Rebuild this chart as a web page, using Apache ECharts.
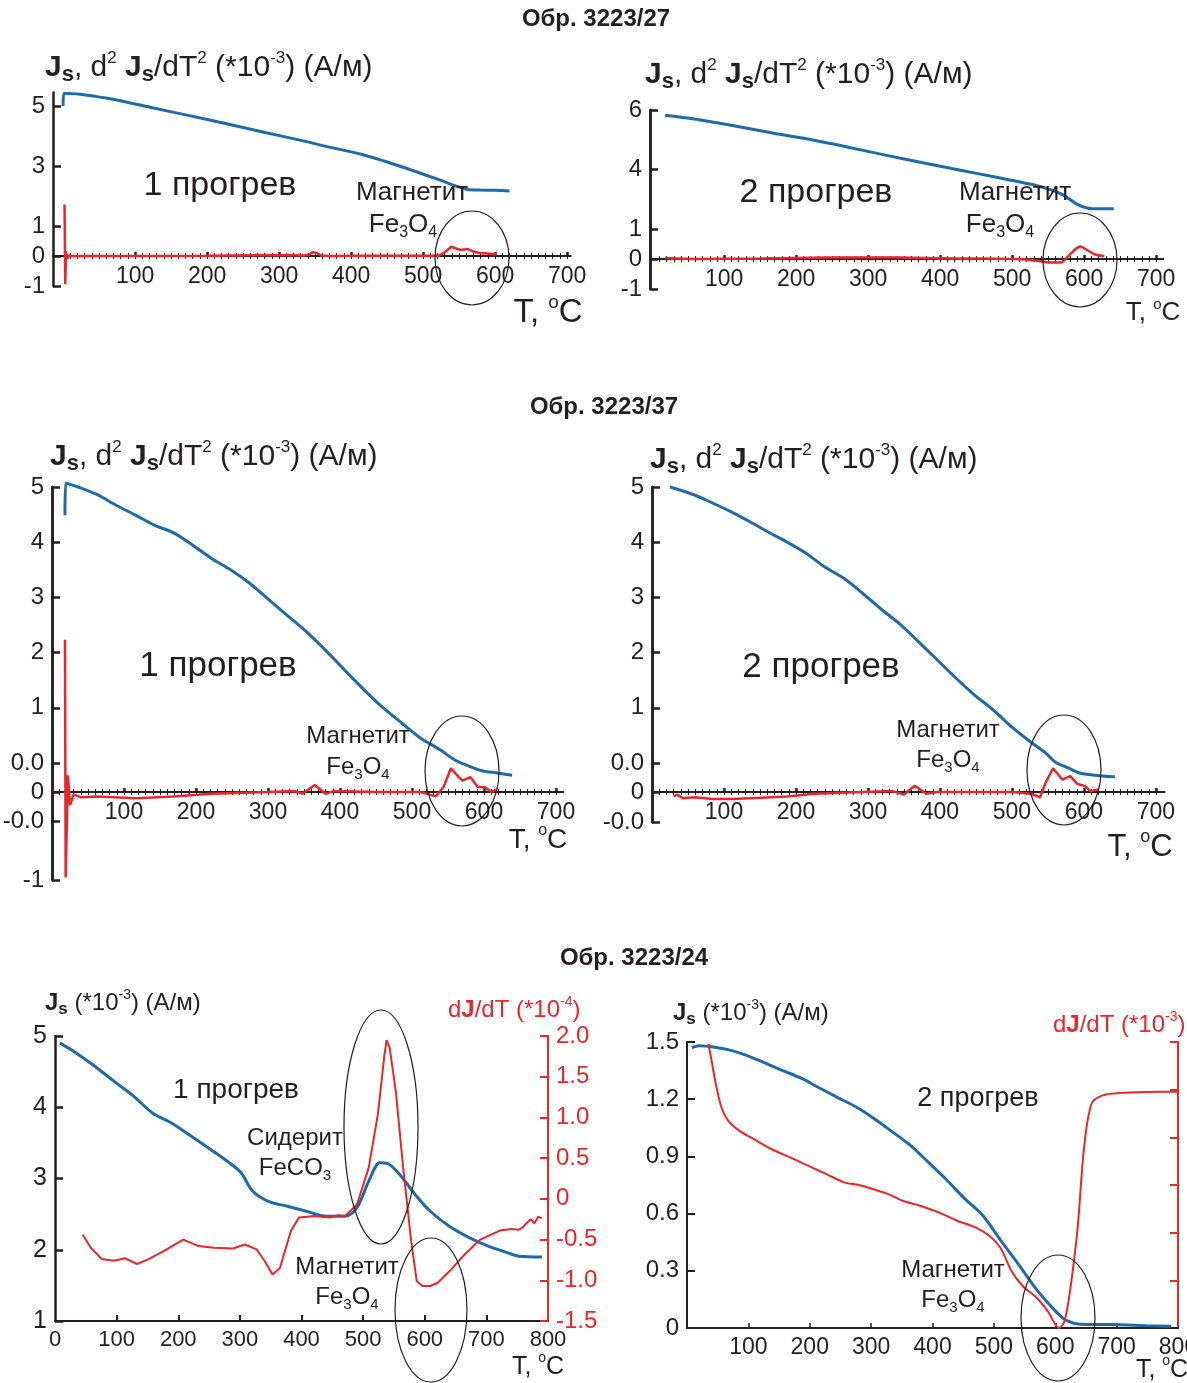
<!DOCTYPE html>
<html><head><meta charset="utf-8">
<script src="https://cdn.jsdelivr.net/npm/echarts@6/dist/echarts.min.js"></script>
<style>html,body{margin:0;padding:0;background:#fff}#c{width:1187px;height:1383px}</style>
</head><body><div id="c"></div>
<script>
// ---------- DATA ----------
// Sample 3223/27, heating 1 (T °C, value)
const p1Blue = [[0,5.0],[1,5.42],[8,5.42],[71,5.22],[124,4.94],[177,4.67],[230,4.39],[282,4.11],[335,3.83],[362,3.67],[414,3.39],[467,3.0],[520,2.56],[546,2.33],[562,2.22],[580,2.2],[599,2.19],[620,2.17]];
const p1Red = [[2,1.72],[3,-0.94],[4,0.15],[6,-0.08],[8,0.02],[12,0],[100,0],[200,0.01],[300,0.03],[335,0.02],[342,0.05],[347,0.13],[352,0.1],[358,0.02],[370,0],[400,0.01],[500,0.01],[522,0.01],[530,0.12],[539,0.31],[546,0.25],[552,0.2],[562,0.23],[570,0.15],[578,0.1],[590,0.08],[602,0.05]];
// Sample 3223/27, heating 2
const p2Blue = [[18,5.82],[65,5.67],[117,5.45],[169,5.21],[220,5.0],[272,4.74],[324,4.47],[376,4.21],[428,3.96],[480,3.71],[532,3.45],[558,3.26],[573,3.09],[589,2.82],[604,2.68],[620,2.65],[641,2.65]];
const p2Red = [[18,0.03],[60,0.0],[150,0.02],[246,0.05],[340,0.05],[420,0.02],[506,0],[532,-0.05],[552,-0.12],[568,-0.12],[578,0.1],[589,0.35],[595,0.42],[604,0.3],[615,0.15],[628,0.1]];
// Sample 3223/37, heating 1
const p3Blue = [[18,4.49],[19,5.07],[36,5.0],[63,4.86],[89,4.67],[116,4.49],[142,4.31],[169,4.17],[195,3.95],[221,3.71],[248,3.5],[274,3.26],[301,2.96],[327,2.67],[354,2.37],[380,2.04],[406,1.69],[433,1.33],[459,1.01],[486,0.72],[512,0.45],[539,0.24],[560,0.05],[576,-0.04],[597,-0.14],[618,-0.18],[639,-0.22]];
const p3Red = [[18,1.73],[19,-0.97],[22,0.19],[25,-0.15],[30,-0.03],[40,-0.06],[63,-0.05],[116,-0.07],[169,-0.05],[221,-0.02],[301,0.0],[338,0.01],[348,-0.02],[365,0.08],[380,-0.02],[391,0.01],[450,0],[512,0],[533,-0.05],[544,0.06],[554,0.27],[565,0.17],[570,0.13],[581,0.17],[591,0.06],[602,0.05],[610,0],[618,0.03]];
// Sample 3223/37, heating 2
const p4Blue = [[25,5.0],[58,4.86],[84,4.71],[110,4.55],[136,4.37],[162,4.18],[188,4.0],[214,3.8],[240,3.55],[266,3.35],[292,3.08],[318,2.79],[344,2.52],[370,2.2],[396,1.87],[422,1.54],[448,1.23],[474,0.96],[500,0.65],[526,0.38],[547,0.18],[560,0.02],[578,-0.09],[594,-0.18],[614,-0.22],[643,-0.25]];
const p4Red = [[30,-0.05],[35,-0.03],[43,-0.07],[59,-0.06],[84,-0.08],[110,-0.08],[136,-0.07],[188,-0.05],[225,-0.02],[292,0.0],[334,0.01],[350,-0.03],[365,0.07],[381,-0.02],[396,0],[500,0],[526,-0.02],[539,-0.06],[547,0.11],[557,0.27],[570,0.14],[581,0.18],[591,0.09],[601,0.07],[609,0.01],[620,0.03]];
// Sample 3223/24, heating 1: Js (*1e-3) and dJ/dT (*1e-4)
const p5Blue = [[8,4.9],[33,4.77],[64,4.58],[95,4.37],[127,4.16],[158,3.92],[189,3.78],[220,3.6],[252,3.41],[283,3.22],[302,3.08],[321,2.82],[346,2.68],[377,2.61],[408,2.54],[440,2.47],[471,2.47],[490,2.59],[509,2.96],[527,3.22],[540,3.21],[559,3.06],[584,2.78],[609,2.54],[640,2.33],[672,2.17],[703,2.05],[734,1.96],[753,1.91],[790,1.9]];
const p5Red = [[45,-0.44],[58,-0.6],[76,-0.74],[95,-0.76],[114,-0.73],[133,-0.8],[152,-0.74],[177,-0.64],[208,-0.5],[233,-0.58],[258,-0.6],[289,-0.61],[308,-0.56],[327,-0.62],[340,-0.76],[353,-0.93],[365,-0.85],[383,-0.39],[396,-0.23],[421,-0.21],[446,-0.23],[459,-0.2],[471,-0.21],[490,-0.07],[509,0.38],[524,1.04],[534,1.73],[538,1.95],[543,1.86],[553,1.32],[565,0.38],[578,-0.52],[587,-1.01],[596,-1.07],[609,-1.07],[621,-1.03],[640,-0.89],[665,-0.68],[690,-0.5],[722,-0.39],[740,-0.37],[752,-0.38],[759,-0.35],[765,-0.3],[772,-0.25],[778,-0.3],[784,-0.22],[790,-0.24]];
// Sample 3223/24, heating 2: Js (*1e-3) and dJ/dT (right scale, unlabelled ticks)
const p6Blue = [[8,1.47],[20,1.48],[50,1.47],[67,1.46],[97,1.43],[127,1.39],[156,1.35],[186,1.31],[215,1.26],[245,1.21],[275,1.16],[304,1.1],[334,1.03],[363,0.96],[393,0.87],[422,0.78],[452,0.68],[482,0.59],[511,0.46],[541,0.33],[570,0.2],[600,0.09],[618,0.04],[641,0.02],[689,0.018],[748,0.012],[789,0.009]];
const p6Red = [[35,5.96],[41,5.54],[47,5.12],[56,4.63],[67,4.35],[85,4.14],[109,3.96],[138,3.75],[168,3.58],[198,3.4],[227,3.23],[257,3.05],[280,3.0],[304,2.91],[328,2.81],[351,2.67],[381,2.56],[411,2.42],[440,2.25],[470,2.11],[493,1.93],[511,1.68],[529,1.19],[547,0.88],[570,0.63],[588,0.35],[606,0.0],[615,0.14],[624,0.77],[636,2.04],[647,3.79],[659,4.7],[677,4.88],[707,4.93],[748,4.95],[813,4.96]];

// tick labels
const xLabelsTop = [100,200,300,400,500,600,700];
const xLabelsBottom5 = [0,100,200,300,400,500,600,700,800];
const xLabelsBottom6 = [100,200,300,400,500,600,700,800];
const y1Labels = [-1,0,1,3,5];
const y2BlueLabels = [4,6];
const y2RedLabels = [-1,0,1];
const y3BlueLabels = [0,1,2,3,4,5];
const y3RedLabels = [0,-0.33,-1];
const y4RedLabels = [0,-0.3409];
const y5BlueLabels = [1,2,3,4,5];
const y5RedLabels = [-1.5,-1,-0.5,0,0.5,1,1.5,2];
const y6BlueLabels = [0,0.3,0.6,0.9,1.2,1.5];
const y6RedTicks = [1,2,3,4,5,6];

// ---------- CHART ----------
const F = '"Liberation Sans", Arial, sans-serif';
const K = '#231f20';
const BLUE = '#1f6aa8';
const RED = '#e8262b';
function range(a,b,s){const r=[];for(let v=a;v<=b+1e-9;v+=s)r.push(Math.round(v*1000)/1000);return r;}
const minor = range(10,700,10);

const grids = [
  {left:53, top:92.5, width:517.7, height:193.5},
  {left:650, top:110, width:513.4, height:179},
  {left:52, top:487, width:511.2, height:393},
  {left:652, top:487, width:512.6, height:335},
  {left:55, top:1036, width:493, height:285},
  {left:687, top:1042, width:491, height:286}
].map(g => Object.assign({containLabel:false, outerBoundsMode:'none'}, g));

const xAxis = [], yAxis = [], series = [];
const lab = (extra) => Object.assign({fontSize:22, color:K, fontFamily:F}, extra);

// x axis raised from the grid bottom to the zero line of the plotted derivative
function topXAxes(gi, min, max, raise) {
  const base = {gridIndex:gi, type:'value', min, max, position:'bottom', offset:-raise, splitLine:{show:false}};
  const line = {onZero:false, lineStyle:{color:K, width:1.5}};
  xAxis.push(Object.assign({}, base, {
    axisLine:line,
    axisTick:{show:true, inside:false, length:3, customValues:minor, lineStyle:{color:K, width:1}},
    axisLabel:lab({customValues:xLabelsTop, margin:9, fontSize:23})
  }));
  xAxis.push(Object.assign({}, base, {
    axisLine:line,
    axisTick:{show:true, inside:true, length:3, customValues:minor, lineStyle:{color:K, width:1}},
    axisLabel:{show:false}
  }));
  xAxis.push(Object.assign({}, base, {
    axisLine:line,
    axisTick:{show:true, inside:true, length:4, customValues:xLabelsTop, lineStyle:{color:K, width:2.5}},
    axisLabel:{show:false}
  }));
  return xAxis.length - 3;
}
function leftY(gi, min, max, vals, fmt) {
  yAxis.push({gridIndex:gi, type:'value', min, max, position:'left', splitLine:{show:false},
    axisLine:{show:true, onZero:false, lineStyle:{color:K, width:2.5}},
    axisTick:{show:true, inside:true, length:8, customValues:vals, lineStyle:{color:K, width:2.5}},
    axisLabel:lab({customValues:vals, margin:8, fontSize:24, formatter: fmt || (v => String(v))})
  });
  return yAxis.length - 1;
}
function line(xi, yi, data, color, width, smooth) {
  series.push({type:'line', xAxisIndex:xi, yAxisIndex:yi, data, showSymbol:false, symbol:'none',
    smooth: smooth || false, clip:false, silent:true, z:5,
    lineStyle:{color, width}});
}

// Panel 1
let y = leftY(0, -1, 5.45, y1Labels);
let x = topXAxes(0, -14, 705, 30);
line(x, y, p1Blue, BLUE, 3, 0.2);
line(x, y, p1Red, RED, 2.5);
// Panel 2
let yb = leftY(1, -0.068, 6, y2BlueLabels);
let yr = leftY(1, -1, 4.967, y2RedLabels);
x = topXAxes(1, -3, 710, 30);
line(x, yb, p2Blue, BLUE, 3, 0.2);
line(x, yr, p2Red, RED, 2.5, 0.2);
// Panel 3
const redMap = {'0':'0','-0.33':'-0.0','-0.3409':'-0.0','-1':'-1'};
yb = leftY(2, -2.1196, 5, y3BlueLabels, v => v === 0 ? '0.0' : String(v));
yr = leftY(2, -1, 3.4659, y3RedLabels, v => redMap[String(v)]);
x = topXAxes(2, 0, 710, 88);
line(x, yb, p3Blue, BLUE, 3, 0.3);
line(x, yr, p3Red, RED, 2.5);
// Panel 4
yb = leftY(3, -1.0688, 5, y3BlueLabels, v => v === 0 ? '0.0' : String(v));
yr = leftY(3, -0.3409, 3.4659, y4RedLabels, v => redMap[String(v)]);
x = topXAxes(3, 0, 712, 30);
line(x, yb, p4Blue, BLUE, 3, 0.3);
line(x, yr, p4Red, RED, 2.5);
// Panel 5
yb = leftY(4, 1, 5, y5BlueLabels, null);
yAxis[yb].axisLabel.fontSize = 25;
yAxis.push({gridIndex:4, type:'value', min:-1.5, max:2, position:'right', splitLine:{show:false},
  axisLine:{show:true, onZero:false, lineStyle:{color:RED, width:2}},
  axisTick:{show:true, inside:true, length:8, customValues:y5RedLabels, lineStyle:{color:RED, width:2}},
  axisLabel:lab({customValues:y5RedLabels, margin:8, fontSize:24, color:RED, formatter: v => v === 0 ? '0' : v.toFixed(1)})});
yr = yAxis.length - 1;
xAxis.push({gridIndex:4, type:'value', min:0, max:800, position:'bottom', splitLine:{show:false},
  axisLine:{onZero:false, lineStyle:{color:K, width:2}},
  axisTick:{show:true, inside:true, length:6, customValues:[100,200,300,400,500,600,700], lineStyle:{color:K, width:2}},
  axisLabel:lab({customValues:xLabelsBottom5, margin:8})});
x = xAxis.length - 1;
line(x, yb, p5Blue, BLUE, 3, 0.3);
line(x, yr, p5Red, RED, 2);
// Panel 6
yb = leftY(5, 0, 1.5, y6BlueLabels, v => v === 0 ? '0' : v.toFixed(1));
yAxis[yb].axisLine.lineStyle.width = 2;
yAxis[yb].axisTick.lineStyle.width = 2;
yAxis.push({gridIndex:5, type:'value', min:0, max:6, position:'right', splitLine:{show:false},
  axisLine:{show:true, onZero:false, lineStyle:{color:RED, width:2}},
  axisTick:{show:true, inside:true, length:8, customValues:y6RedTicks, lineStyle:{color:RED, width:2}},
  axisLabel:{show:false}});
yr = yAxis.length - 1;
xAxis.push({gridIndex:5, type:'value', min:0, max:800, position:'bottom', splitLine:{show:false},
  axisLine:{onZero:false, lineStyle:{color:K, width:2}},
  axisTick:{show:true, inside:true, length:5, customValues:[100,200,300,400,500,600,700], lineStyle:{color:K, width:1.5}},
  axisLabel:lab({customValues:xLabelsBottom6, margin:8, fontSize:23})});
x = xAxis.length - 1;
line(x, yb, p6Blue, BLUE, 3, 0.3);
line(x, yr, p6Red, RED, 2, 0.3);

// ---------- TEXT / ANNOTATIONS ----------
function rich(size) {
  return {
    b: {fontWeight:'bold', fontSize:size, lineHeight:size+6},
    s: {fontWeight:'bold', fontSize:Math.round(size*0.72), verticalAlign:'bottom', lineHeight:Math.round(size*0.72)},
    p: {fontSize:Math.round(size*0.58), verticalAlign:'top', lineHeight:Math.round(size*0.62)},
    n: {fontSize:size, lineHeight:size+6},
    u: {fontSize:Math.round(size*0.62), verticalAlign:'bottom', lineHeight:Math.round(size*0.62)}
  };
}
function T(xp, yp, text, size, o) {
  o = o || {};
  return {type:'text', x:xp, y:yp, z:10, silent:true, style:{
    text, fontFamily:F, fontSize:size, fontWeight:o.bold ? 'bold' : 'normal', fill:o.color || K,
    align:o.align || 'center', verticalAlign:'middle', rich:rich(size)}};
}
function E(cx, cy, rx, ry) {
  return {type:'ellipse', z:9, silent:true, shape:{cx, cy, rx, ry}, style:{fill:'none', stroke:K, lineWidth:1.2}};
}
const axTitle = '{b|J}{s|s}{n|, d}{p|2}{n| }{b|J}{s|s}{n|/dT}{p|2}{n| (*10}{p|-3}{n|) (А/м)}';
const mag = '{n|Магнетит}';
const fe = '{n|Fe}{u|3}{n|O}{u|4}';
const tc = '{n|T, }{p|o}{n|C}';
const graphic = [
  T(596, 19, 'Обр. 3223/27', 24, {bold:true}),
  T(604, 407, 'Обр. 3223/37', 24, {bold:true}),
  T(634, 958, 'Обр. 3223/24', 24, {bold:true}),
  T(45, 68, axTitle, 30, {align:'left'}),
  T(645, 75, axTitle, 30, {align:'left'}),
  T(50, 457, axTitle, 30, {align:'left'}),
  T(650, 460, axTitle, 30, {align:'left'}),
  T(45, 1003, '{b|J}{s|s}{n| (*10}{p|-3}{n|) (А/м)}', 24, {align:'left'}),
  T(448, 1010, '{n|d}{b|J}{n|/dT (*10}{p|-4}{n|)}', 24, {align:'left', color:RED}),
  T(673, 1013, '{b|J}{s|s}{n| (*10}{p|-3}{n|) (А/м)}', 24, {align:'left'}),
  T(1053, 1025, '{n|d}{b|J}{n|/dT (*10}{p|-3}{n|)}', 24, {align:'left', color:RED}),
  T(220, 186, '1 прогрев', 34),
  T(816, 193, '2 прогрев', 34),
  T(218, 666, '1 прогрев', 35),
  T(821, 667, '2 прогрев', 35),
  T(236, 1090, '1 прогрев', 28),
  T(978, 1099, '2 прогрев', 27),
  T(412, 193, mag, 26), T(403, 225, fe, 26),
  T(1015, 193, mag, 26), T(1000, 225, fe, 26),
  T(358, 736, mag, 24), T(358, 767, fe, 24),
  T(948, 730, mag, 24), T(948, 760, fe, 24),
  T(295, 1138, '{n|Сидерит}', 24), T(295, 1168, '{n|FeCO}{u|3}', 24),
  T(347, 1267, mag, 24), T(347, 1297, fe, 24),
  T(953, 1270, mag, 24), T(953, 1300, fe, 24),
  T(548, 313, tc, 33), T(1153, 313, tc, 26), T(538, 840, tc, 28), T(1140, 847, tc, 31),
  T(538, 1367, tc, 25), T(1162, 1370, tc, 25),
  E(472, 258, 37, 47), E(1080, 260, 37, 47), E(462, 771, 37, 55), E(1064, 770, 37, 55),
  E(381, 1127, 37, 117), E(431, 1310, 36, 72), E(1058, 1318, 37, 63)
];

const chart = echarts.init(document.getElementById('c'), null, {renderer:'canvas'});
chart.setOption({animation:false, backgroundColor:'#fff', grid:grids, xAxis, yAxis, series, graphic});
</script></body></html>
